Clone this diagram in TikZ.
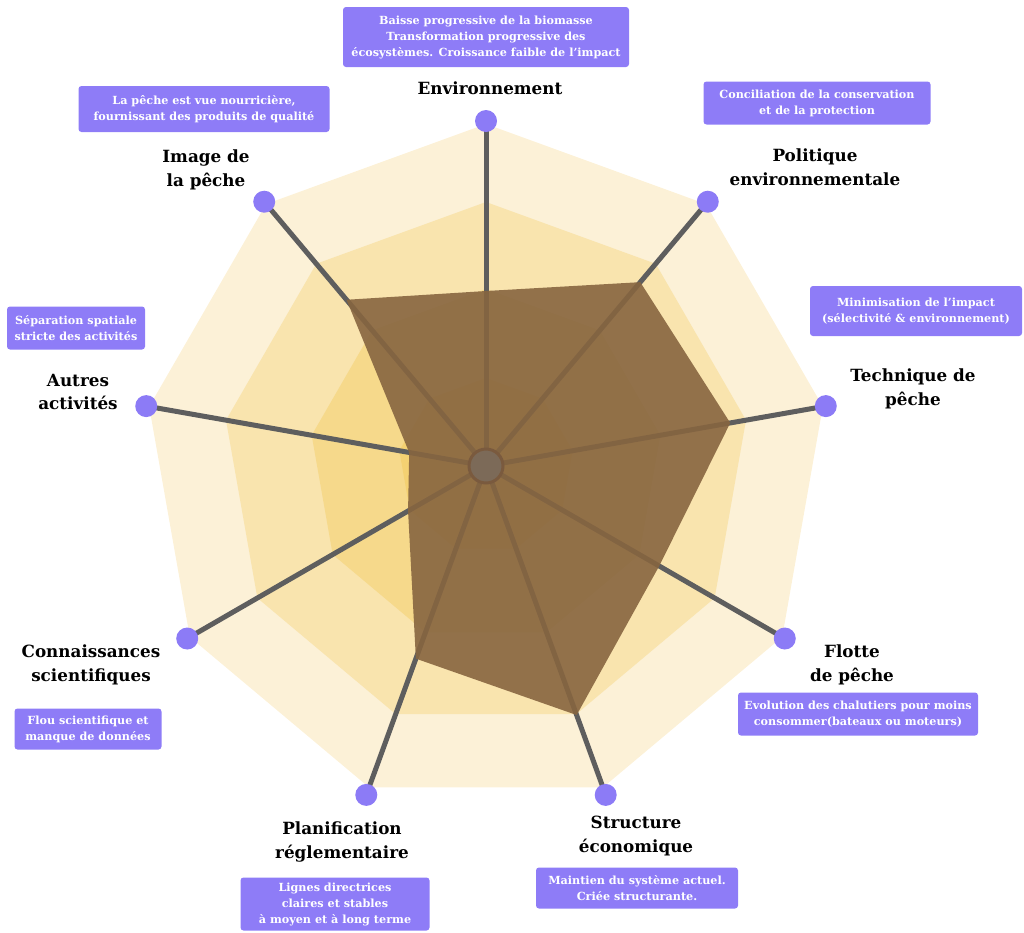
\documentclass[tikz,border=0pt]{standalone}
\usepackage{fontspec}
\setmainfont{DejaVu Serif}
\definecolor{ringA}{HTML}{FCF1D7}
\definecolor{ringB}{HTML}{F9E4AE}
\definecolor{ringC}{HTML}{F6D98B}
\definecolor{ringD}{HTML}{F4D172}
\definecolor{databrown}{HTML}{876540}
\definecolor{axisgray}{HTML}{5E5E5E}
\definecolor{dotpurple}{HTML}{8C7BF6}
\definecolor{boxpurple}{HTML}{8E7CF7}
\definecolor{hubfill}{HTML}{7C6A58}
\definecolor{hubline}{HTML}{7A5A3E}
\begin{document}
\begin{tikzpicture}[x=1pt,y=-1pt,
  axisline/.style={draw=axisgray,line width=5pt},
  dotnode/.style={circle,fill=dotpurple,minimum size=22pt,inner sep=0pt},
  hubnode/.style={circle,fill=hubfill,draw=hubline,line width=3pt,minimum size=34pt,inner sep=0pt},
  axlabel/.style={align=center,font=\fontsize{16.8}{23.5}\selectfont\bfseries,text=black,inner sep=0pt},
  infobox/.style={fill=boxpurple,rounded corners=3pt,align=center,text=white,font=\fontsize{11.2}{16}\selectfont\bfseries,inner sep=2pt}
]
\useasboundingbox (0,0) rectangle (1024,932);
\begin{scope}[shift={(486,466)}]
  \fill[ringA] (-90:342) -- (-50:342) -- (-10:342) -- (30:342) -- (70:342) -- (110:342) -- (150:342) -- (190:342) -- (230:342) -- cycle;
  \fill[ringB] (-90:264) -- (-50:264) -- (-10:264) -- (30:264) -- (70:264) -- (110:264) -- (150:264) -- (190:264) -- (230:264) -- cycle;
  \fill[ringC] (-90:177) -- (-50:177) -- (-10:177) -- (30:177) -- (70:177) -- (110:177) -- (150:177) -- (190:177) -- (230:177) -- cycle;
  \fill[ringD] (-90:88) -- (-50:88) -- (-10:88) -- (30:88) -- (70:88) -- (110:88) -- (150:88) -- (190:88) -- (230:88) -- cycle;
  \coordinate (O) at (0,0);
  \coordinate (p0) at (-90:345);
  \coordinate (p1) at (-50:345);
  \coordinate (p2) at (-10:345);
  \coordinate (p3) at (30:345);
  \coordinate (p4) at (70:350);
  \coordinate (p5) at (110:350);
  \coordinate (p6) at (150:345);
  \coordinate (p7) at (190:345);
  \coordinate (p8) at (230:345);
  \foreach \i in {0,...,8} { \draw[axisline] (O) -- (p\i); }
  \fill[databrown,fill opacity=0.9] (-90:175) -- (-50:240) -- (-10:248) -- (30:200) -- (70:265) -- (110:205) -- (150:90) -- (190:78) -- (230:217) -- cycle;
  \node[hubnode] (hub) at (O) {};
  \foreach \i in {0,...,8} { \node[dotnode] (d\i) at (p\i) {}; }
\end{scope}
% axis labels
\node[axlabel] (lEnv) at (490,88) {Environnement};
\node[axlabel] (lPol) at (815,167) {Politique\\environnementale};
\node[axlabel] (lTec) at (913,389) {Technique de\\pêche};
\node[axlabel] (lFlo) at (852,665) {Flotte\\de pêche};
\node[axlabel] (lStr) at (636,836) {Structure\\économique};
\node[axlabel] (lPla) at (342,842) {Planification\\réglementaire};
\node[axlabel] (lCon) at (91,665) {Connaissances\\scientifiques};
\node[axlabel] (lAut) at (78,392) {Autres\\activités};
\node[axlabel] (lImg) at (206,170) {Image de\\la pêche};
% info boxes
\node[infobox,minimum width=286pt,minimum height=60pt] (bEnv) at (486,37) {Baisse progressive de la biomasse\\Transformation progressive des\\écosystèmes. Croissance faible de l'impact};
\node[infobox,minimum width=227pt,minimum height=43pt] (bPol) at (817,103) {Conciliation de la conservation\\et de la protection};
\node[infobox,minimum width=212pt,minimum height=50pt] (bTec) at (916,311) {Minimisation de l'impact\\(sélectivité \& environnement)};
\node[infobox,minimum width=240pt,minimum height=43pt] (bFlo) at (858,714) {Evolution des chalutiers pour moins\\consommer(bateaux ou moteurs)};
\node[infobox,minimum width=202pt,minimum height=41pt] (bStr) at (637,888) {Maintien du système actuel.\\Criée structurante.};
\node[infobox,minimum width=189pt,minimum height=53pt] (bPla) at (335,904) {Lignes directrices\\claires et stables\\à moyen et à long terme};
\node[infobox,minimum width=147pt,minimum height=41pt] (bCon) at (88,729) {Flou scientifique et\\manque de données};
\node[infobox,minimum width=138pt,minimum height=43pt] (bAut) at (76,328) {Séparation spatiale\\stricte des activités};
\node[infobox,minimum width=251pt,minimum height=46pt] (bImg) at (204,109) {La pêche est vue nourricière,\\fournissant des produits de qualité};
\end{tikzpicture}
\end{document}
